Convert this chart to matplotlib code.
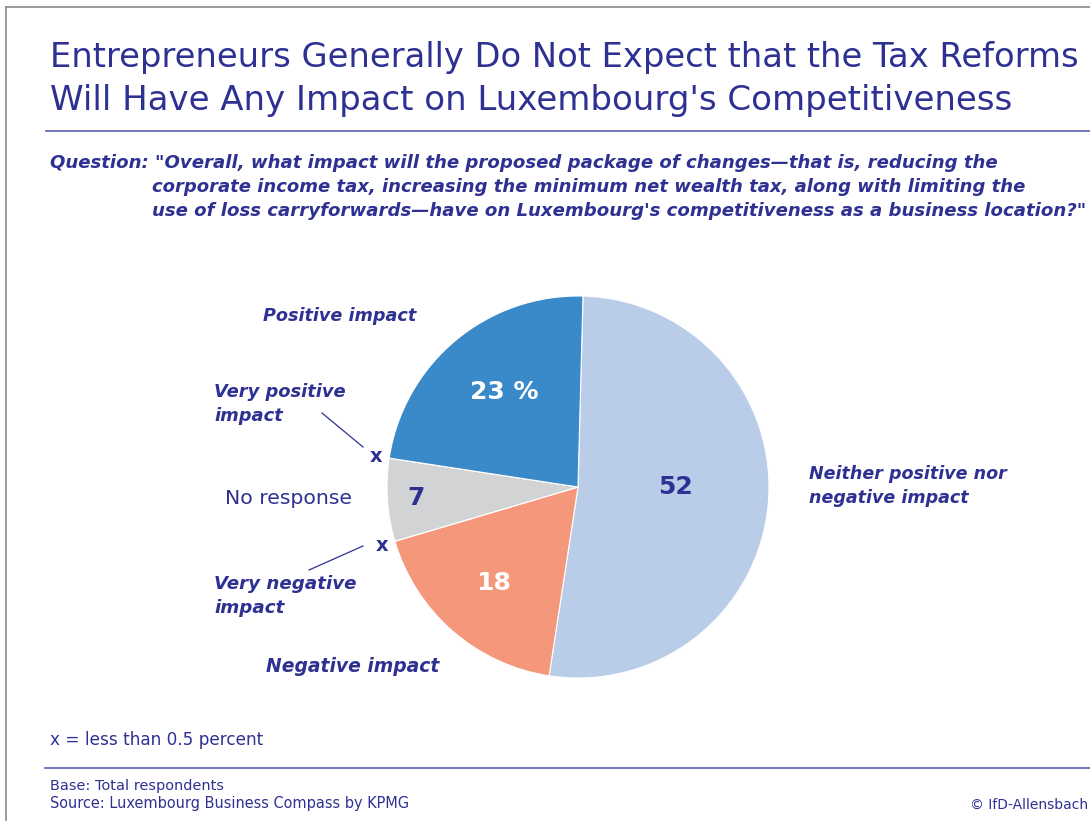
import matplotlib
matplotlib.use("Agg")
import matplotlib.pyplot as plt
from matplotlib.lines import Line2D
import numpy as np

# ---- data ----
categories = ["Neither positive nor\nnegative impact", "Negative impact", "Very negative\nimpact",
              "No response", "Very positive\nimpact", "Positive impact"]
shares = [52, 18, 0, 7, 0, 23]
value_labels = ["52", "18", "x", "7", "x", "23 %"]

title_lines = ["Entrepreneurs Generally Do Not Expect that the Tax Reforms",
               "Will Have Any Impact on Luxembourg's Competitiveness"]
question_lines = ["Question: \"Overall, what impact will the proposed package of changes\u2014that is, reducing the",
                  "corporate income tax, increasing the minimum net wealth tax, along with limiting the",
                  "use of loss carryforwards\u2014have on Luxembourg's competitiveness as a business location?\""]
note_text = "x = less than 0.5 percent"
base_text = "Base: Total respondents"
source_text = "Source: Luxembourg Business Compass by KPMG"
credit_text = "\u00a9 IfD-Allensbach"

# ---- style ----
W, H = 1090, 821
NAVY = "#2e3192"
RULE = "#5b5fae"
colors = ["#b9cde9", "#f4977a", "#f4977a", "#d1d3d4", "#3a89c9", "#3a89c9"]
inner_colors = [NAVY, "white", NAVY, NAVY, NAVY, "white"]
inner_radius = [0.51, 0.67, 1.07, 0.85, 1.07, 0.63]
inner_shift = [5, 0, 0, 0, 0, -2]   # degrees, nudges label along the arc
FONT = "DejaVu Sans"

fig = plt.figure(figsize=(W / 100, H / 100), dpi=100)
ax = fig.add_axes([0, 0, 1, 1])
renderer = fig.canvas.get_renderer()


def Y(py):
    return H - py


def fit_text(x, y, s, width, size=14, family=FONT, **kw):
    t = ax.text(x, Y(y), s, fontsize=size, family=family, **kw)
    w = t.get_window_extent(renderer).width
    t.set_fontsize(size * width / w)
    return t


# frame lines
ax.add_line(Line2D([6, W], [Y(7), Y(7)], color="#8a8a8a", lw=1.2))
ax.add_line(Line2D([6, 6], [Y(7), 0], color="#8a8a8a", lw=1.2))
ax.add_line(Line2D([46, W], [Y(131), Y(131)], color=RULE, lw=1.2))
ax.add_line(Line2D([45, W], [Y(768), Y(768)], color=RULE, lw=1.2))

# title
tkw = dict(color=NAVY, va="center", ha="left")
fit_text(50, 57, title_lines[0], 1028, 26, **tkw)
fit_text(50, 100, title_lines[1], 963, 26, **tkw)

# question
qkw = dict(color=NAVY, va="center", ha="left", fontweight="bold", style="italic")
fit_text(50, 163, question_lines[0], 950, 13, **qkw)
fit_text(152, 187, question_lines[1], 873, 13, **qkw)
fit_text(152, 211, question_lines[2], 933, 13, **qkw)

# pie
cx, cy, R = 578, Y(487), 191
wedges, _ = ax.pie(shares, colors=colors, startangle=88.5, counterclock=False,
                   center=(cx, cy), radius=R, frame=True,
                   wedgeprops=dict(edgecolor="white", linewidth=0.8))

for w, lab, col, rr, sh, v in zip(wedges, value_labels, inner_colors, inner_radius,
                                  inner_shift, shares):
    mid = np.deg2rad((w.theta1 + w.theta2) / 2 + sh)
    tx, ty = cx + rr * R * np.cos(mid), cy + rr * R * np.sin(mid)
    size = 14 if v == 0 else 18
    ax.text(tx, ty, lab, color=col, fontsize=size, fontweight="bold", family=FONT,
            ha="center", va="center")

# category labels
lkw = dict(color=NAVY, fontweight="bold", style="italic", ha="left", va="center")
fit_text(263, 316, categories[5], 154, 14, **lkw)
fit_text(214, 404, categories[4], 132, 14, linespacing=1.45, **lkw)
fit_text(225, 498, categories[3], 127, 14, color=NAVY, ha="left", va="center")
fit_text(214, 596, categories[2], 143, 14, linespacing=1.45, **lkw)
fit_text(266, 666, categories[1], 174, 14, **lkw)
fit_text(809, 486, categories[0], 199, 14, linespacing=1.45, **lkw)

# leader lines to the "x" marks
ax.add_line(Line2D([322, 363], [Y(413), Y(447)], color=NAVY, lw=0.9))
ax.add_line(Line2D([363, 309], [Y(546), Y(570)], color=NAVY, lw=0.9))

# footer
fit_text(50, 740, note_text, 212, 12, color=NAVY, ha="left", va="center")
fit_text(50, 786, base_text, 173, 10, color=NAVY, ha="left", va="center")
fit_text(50, 803, source_text, 358, 10, color=NAVY, ha="left", va="center")
fit_text(1088, 805, credit_text, 118, 10, color=NAVY, ha="right", va="center")

ax.set_xlim(0, W)
ax.set_ylim(0, H)
ax.set_aspect("equal")
ax.axis("off")
fig.savefig("out.png", dpi=100)
